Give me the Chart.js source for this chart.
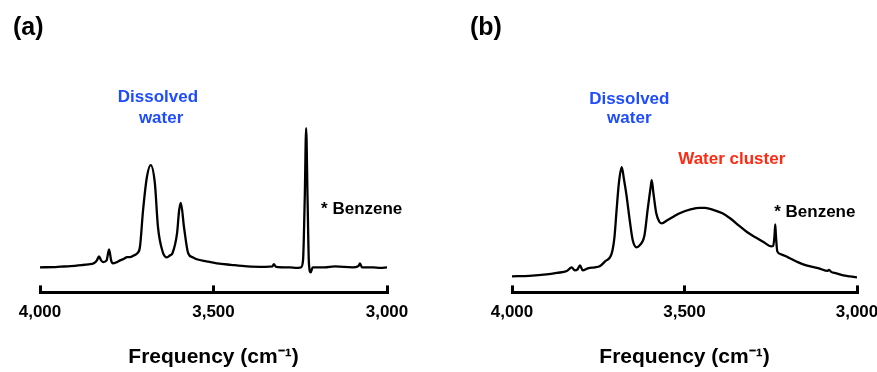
<!DOCTYPE html>
<html>
<head>
<meta charset="utf-8">
<script src="https://cdn.jsdelivr.net/npm/chart.js@4.4.1/dist/chart.umd.min.js"></script>
<style>
html,body{margin:0;padding:0;background:#fff;overflow:hidden;width:877px;height:372px}
#wrapA{position:absolute;left:0;top:0;width:440px;height:372px}
#wrapB{position:absolute;left:437px;top:0;width:460px;height:372px}
</style>
</head>
<body>
<div id="wrapA"><canvas id="chartA"></canvas></div>
<div id="wrapB"><canvas id="chartB"></canvas></div>
<script>
// frequency axis (cm-1), reversed
var tickValues = [4000, 3500, 3000];

// panel (a) : dissolved water only
var freqA = [4000,3960,3940,3920,3900,3880,3860,3845,3836,3830,3824,3818,3808,3801,3795,3790,3780,3769,3758,3749,
  3741,3730,3720,3712,3703,3692,3681,3669,3660,3646,3634,3626,3618,3605,3599,3594,3585,3573,3560,3548,
  3520,3490,3450,3403,3350,3330,3326,3320,3280,3260,3248,3242,3237,3233,3229,3225,3220,3214,3180,3150,
  3100,3082,3078,3072,3040,3020,3000];
var intenA = [0,0.002,0.005,0.007,0.011,0.016,0.022,0.029,0.05,0.079,0.05,0.038,0.05,0.129,0.05,0.029,0.036,0.05,0.062,0.074,
  0.074,0.085,0.10,0.146,0.41,0.647,0.734,0.604,0.288,0.108,0.072,0.085,0.103,0.245,0.41,0.463,0.288,0.101,0.072,0.058,
  0.043,0.029,0.018,0.007,0.004,0.007,0.022,0.004,0,-0.004,0,0.05,0.5,1.0,0.5,0.03,-0.036,0,0,0.007,
  0,0.01,0.029,0,0,-0.004,0];

// panel (b) : dissolved water + water cluster
var freqB = [4000,3950,3900,3870,3841,3827,3818,3810,3803,3795,3780,3760,3746,3730,3711,3703,3697,3690,3682,3675,
  3668,3659,3650,3639,3630,3616,3607,3598,3595,3590,3582,3573,3566,3550,3530,3514,3480,3457,3440,3419,
  3390,3367,3341,3318,3292,3270,3249,3243,3239,3237,3235,3231,3220,3200,3170,3147,3110,3085,3081,3075,
  3060,3040,3020,3000];
var intenB = [0,0.005,0.018,0.032,0.049,0.083,0.055,0.064,0.101,0.055,0.073,0.083,0.092,0.138,0.21,0.36,0.6,0.86,1.0,0.88,
  0.74,0.52,0.33,0.266,0.284,0.376,0.606,0.82,0.881,0.76,0.58,0.50,0.486,0.514,0.55,0.578,0.615,0.628,0.627,0.612,
  0.578,0.530,0.462,0.404,0.353,0.312,0.275,0.278,0.376,0.477,0.376,0.229,0.202,0.174,0.128,0.101,0.073,0.05,0.06,0.041,
  0.028,0.009,0,-0.009];

var FONT = '"Liberation Sans", Arial, Helvetica, sans-serif';
var BLUE = '#1f4cff';
var RED = '#ff2a12';

// text labels placed in data coordinates (x = cm-1, y = intensity)
var notesA = [
  {text: '(a)', px: 13, py: 28, size: 25, color: '#000', align: 'left'},
  {text: 'Dissolved', x: 3660, y: 1.223, size: 17, color: BLUE},
  {text: 'water', x: 3651, y: 1.072, size: 17, color: BLUE},
  {text: '* Benzene', x: 3190, y: 0.417, size: 17, color: '#000', align: 'left'}
];
var notesB = [
  {text: '(b)', px: 33, py: 28, size: 25, color: '#000', align: 'left'},
  {text: 'Dissolved', x: 3660, y: 1.624, size: 17, color: BLUE},
  {text: 'water', x: 3660, y: 1.45, size: 17, color: BLUE},
  {text: 'Water cluster', x: 3363, y: 1.073, size: 17, color: RED},
  {text: '* Benzene', x: 3240, y: 0.587, size: 17, color: '#000', align: 'left'}
];

var notePlugin = {
  id: 'notes',
  afterDraw: function(chart, args, opts) {
    var ctx = chart.ctx;
    var xs = chart.scales.x, ys = chart.scales.y;
    ctx.save();
    ctx.textBaseline = 'middle';
    (opts.items || []).forEach(function(n) {
      ctx.font = 'bold ' + n.size + 'px ' + FONT;
      ctx.fillStyle = n.color;
      ctx.textAlign = n.align || 'center';
      var px = n.px != null ? n.px : xs.getPixelForValue(n.x);
      var py = n.py != null ? n.py : ys.getPixelForValue(n.y);
      ctx.fillText(n.text, px, py);
    });
    ctx.restore();
  }
};

function makeChart(id, freq, inten, yMin, yMax, padL, padR, notes) {
  var pts = freq.map(function(f, i) { return {x: f, y: inten[i]}; });
  return new Chart(document.getElementById(id), {
    type: 'line',
    data: {
      datasets: [{
        data: pts,
        borderColor: '#000',
        borderWidth: 2.3,
        pointRadius: 0,
        fill: false,
        cubicInterpolationMode: 'monotone'
      }]
    },
    options: {
      responsive: true,
      maintainAspectRatio: false,
      devicePixelRatio: 1,
      animation: false,
      layout: {padding: {left: padL, right: padR, top: 60, bottom: 0}},
      plugins: {
        legend: {display: false},
        tooltip: {enabled: false},
        notes: {items: notes}
      },
      scales: {
        x: {
          type: 'linear',
          reverse: true,
          min: 3000,
          max: 4000,
          afterBuildTicks: function(scale) {
            scale.ticks = tickValues.map(function(v) { return {value: v}; });
          },
          grid: {drawOnChartArea: false, drawTicks: true, tickLength: -7, lineWidth: 3, color: '#000'},
          border: {display: true, width: 3, color: '#000'},
          ticks: {
            padding: 17,
            color: '#000',
            font: {family: FONT, size: 17, weight: 'bold'},
            maxRotation: 0,
            callback: function(v) { return Number(v).toLocaleString('en-US'); }
          },
          title: {
            display: true,
            text: 'Frequency (cm\u207B\u00B9)',
            color: '#000',
            font: {family: FONT, size: 21, weight: 'bold'},
            padding: {top: 5, bottom: 2}
          }
        },
        y: {
          display: false,
          min: yMin,
          max: yMax
        }
      }
    },
    plugins: [notePlugin]
  });
}

makeChart('chartA', freqA, intenA, -0.18, 1.489, 40, 53, notesA);
makeChart('chartB', freqB, intenB, -0.147, 1.982, 75, 40, notesB);
</script>
</body>
</html>
